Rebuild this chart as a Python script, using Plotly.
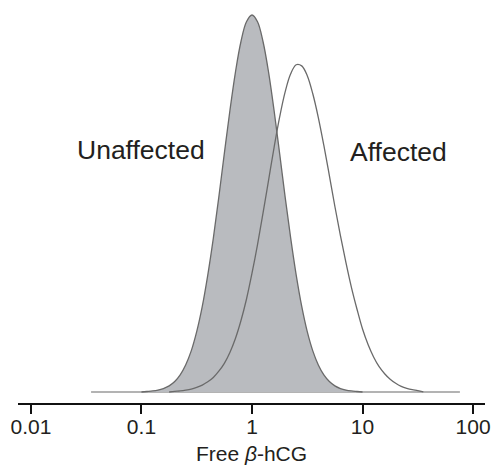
import math
import plotly.graph_objects as go

# Unaffected distribution (Free beta-hCG, MoM) - relative frequency
unaffected_x = [0.100, 0.112, 0.126, 0.141, 0.158, 0.178, 0.200, 0.224, 0.251, 0.282,
                0.316, 0.355, 0.398, 0.447, 0.501, 0.562, 0.631, 0.708, 0.794, 0.891,
                1.0, 1.122, 1.259, 1.413, 1.585, 1.778, 1.995, 2.239, 2.512, 2.818,
                3.162, 3.548, 3.981, 4.467, 5.012, 5.623, 6.310, 7.079, 7.943, 8.913, 10.0]
unaffected_y = [0.0, 0.0013, 0.0027, 0.0050, 0.0092, 0.0163, 0.0277, 0.0453, 0.0716, 0.109,
                0.160, 0.227, 0.310, 0.408, 0.517, 0.633, 0.746, 0.848, 0.929, 0.982,
                1.0, 0.982, 0.929, 0.848, 0.746, 0.633, 0.517, 0.408, 0.310, 0.227,
                0.160, 0.109, 0.0716, 0.0453, 0.0277, 0.0163, 0.0092, 0.0050, 0.0027, 0.0013, 0.0]

# Affected distribution
affected_x = [0.178, 0.200, 0.224, 0.251, 0.282, 0.316, 0.355, 0.398, 0.447, 0.501, 0.562, 0.631,
              0.708, 0.794, 0.891, 1.0, 1.122, 1.259, 1.413, 1.585, 1.778, 1.995,
              2.239, 2.512, 2.818, 3.162, 3.548, 3.981, 4.467, 5.012, 5.623, 6.310,
              7.079, 7.943, 8.913, 10.0, 11.22, 12.59, 14.13, 15.85, 17.78, 19.95,
              22.39, 25.12, 28.18, 31.62, 35.48]
affected_y = [0.0, 0.0018, 0.0031, 0.0051, 0.0079, 0.0124, 0.0184, 0.0271, 0.0385, 0.0551, 0.0760, 0.105,
              0.142, 0.189, 0.246, 0.315, 0.391, 0.475, 0.562, 0.649, 0.729, 0.796,
              0.844, 0.868, 0.865, 0.839, 0.791, 0.728, 0.654, 0.574, 0.492, 0.415,
              0.343, 0.277, 0.2195, 0.167, 0.126, 0.093, 0.0672, 0.0485, 0.0338, 0.0231,
              0.0151, 0.0097, 0.0060, 0.0037, 0.0]

baseline_x = [0.035, 76]
baseline_y = [0, 0]

tick_vals = [0.01, 0.1, 1, 10, 100]
tick_text = ["0.01", "0.1", "1", "10", "100"]

labels = ["Unaffected", "Affected"]
label_x = [0.1, 21.1]
label_y = [0.642, 0.637]

line_col = "#6a6a6a"
fill_col = "#b9bbbf"
text_col = "#231f20"

fig = go.Figure()
fig.add_trace(go.Scatter(x=baseline_x, y=baseline_y, mode="lines",
                         line=dict(color="#9a9a9a", width=1.5), hoverinfo="skip"))
fig.add_trace(go.Scatter(x=unaffected_x, y=unaffected_y, mode="lines",
                         line=dict(color=line_col, width=1.3, shape="spline", smoothing=1.0),
                         fill="tozeroy", fillcolor=fill_col))
fig.add_trace(go.Scatter(x=affected_x, y=affected_y, mode="lines",
                         line=dict(color=line_col, width=1.3, shape="spline", smoothing=1.0)))

for t, x, y in zip(labels, label_x, label_y):
    fig.add_annotation(x=math.log10(x), y=y, xref="x", yref="y", text=t, showarrow=False,
                       font=dict(family="Liberation Sans, Arial, sans-serif", size=26.5, color=text_col))

fig.update_layout(
    width=496, height=470,
    margin=dict(l=18, r=9, t=5, b=67),
    paper_bgcolor="white", plot_bgcolor="white",
    showlegend=False,
    font=dict(family="Liberation Sans, Arial, sans-serif", color=text_col),
)
fig.update_xaxes(
    type="log", range=[-2.117, 2.108],
    tickvals=tick_vals, ticktext=tick_text,
    tickfont=dict(size=21, color=text_col),
    ticks="outside", ticklen=9, tickwidth=1.5, tickcolor="#111",
    ticklabelstandoff=-5,
    showline=True, linecolor="#111", linewidth=1.5,
    showgrid=False, zeroline=False,
    title=dict(text="Free <i>β</i>-hCG", font=dict(size=21, color=text_col), standoff=9),
)
fig.update_yaxes(visible=False, range=[-0.0292, 1.0265])

fig.write_html("out.html")
